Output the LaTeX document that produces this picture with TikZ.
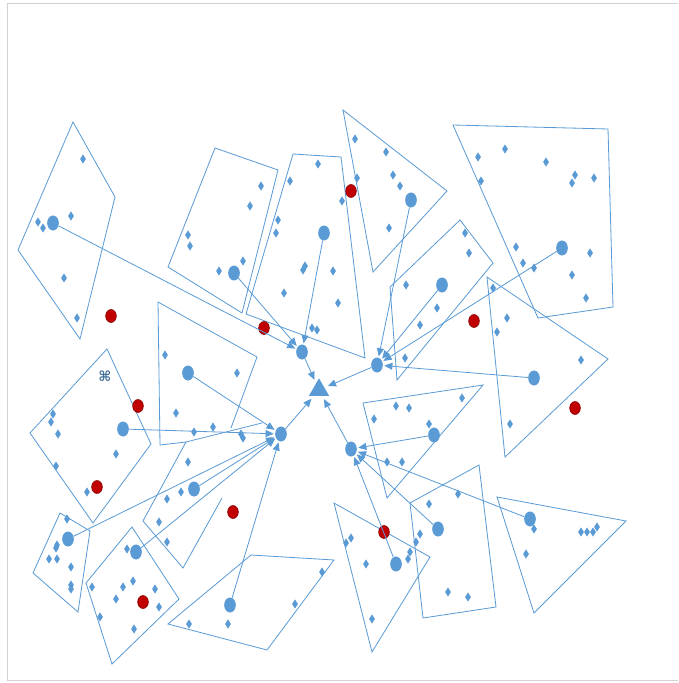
\documentclass[tikz,border=0pt]{standalone}
\usepackage{fontspec}
\newfontfamily\symfont{DejaVu Sans}
\usepackage{xcolor}
\usetikzlibrary{shapes,arrows.meta}
\definecolor{dotblue}{RGB}{91,155,213}
\definecolor{dotred}{RGB}{192,0,0}
\tikzset{
  zone/.style={draw=dotblue, line width=0.7pt},
  bigdot/.style={ellipse, fill=dotblue, inner sep=0pt, minimum width=0.35cm, minimum height=0.45cm},
  gem/.style={diamond, fill=dotblue, inner sep=0pt, minimum width=0.18cm, minimum height=0.28cm},
  reddot/.style={ellipse, fill=dotred, draw=dotred!70!black, line width=0.5pt, inner sep=0pt, minimum width=0.32cm, minimum height=0.39cm},
  feed/.style={draw=dotblue, line width=0.7pt, -{Triangle[length=7pt,width=6pt]}, shorten >=1pt}
}
\begin{document}
\begin{tikzpicture}[x=0.03cm,y=-0.03cm]
\useasboundingbox (0,0) rectangle (678,683);
% frame
\draw[gray!35, line width=0.6pt] (678,3) -- (7,3) -- (7,680) -- (678,680);

% cluster outlines
\draw[zone] (73,122) -- (115,197) -- (80,339) -- (18,250) -- cycle;
\draw[zone] (215,148) -- (278,170) -- (242,313) -- (168,267) -- cycle;
\draw[zone] (293,154) -- (341,157) -- (365,358) -- (246,314) -- cycle;
\draw[zone] (343,110) -- (447,191) -- (373,272) -- cycle;
\draw[zone] (460,220) -- (493,263) -- (397,380) -- (390,287) -- cycle;
\draw[zone] (453,125) -- (608,129) -- (613,307) -- (538,318) -- cycle;
\draw[zone] (487,277) -- (608,359) -- (505,457) -- cycle;
\draw[zone] (363,403) -- (483,385) -- (387,498) -- cycle;
\draw[zone] (479,465) -- (496,607) -- (423,618) -- (410,503) -- cycle;
\draw[zone] (497,497) -- (626,521) -- (534,613) -- cycle;
\draw[zone] (334,503) -- (430,557) -- (372,652) -- cycle;
\draw[zone] (107,349) -- (151,444) -- (93,523) -- (30,433) -- cycle;
\draw[zone] (231,428) -- (257,357) -- (158,302) -- (160,445) -- (186,442);
\draw[zone] (262,423) -- (186,442) -- (143,521) -- (183,568) -- (222,498);
\draw[zone] (60,513) -- (90,531) -- (78,612) -- (33,573) -- cycle;
\draw[zone] (132,527) -- (179,599) -- (112,664) -- (86,583) -- cycle;
\draw[zone] (251,555) -- (334,560) -- (267,650) -- (168,624) -- cycle;

% small members
\foreach \p [count=\i] in {(83,159),(71,216),(38,222),(43,228),(64,278),(77,318)}
  \node[gem] (ga\i) at \p {};
\foreach \p [count=\i] in {(261,186),(250,206),(188,235),(190,246),(243,261),(219,271)}
  \node[gem] (gb\i) at \p {};
\foreach \p [count=\i] in {(318,164),(290,181),(278,220),(276,233),(305,266),(303,270),(333,271),(284,293),(338,303),(312,328),(317,330),(342,201)}
  \node[gem] (gc\i) at \p {};
\foreach \p [count=\i] in {(355,139),(386,152),(357,178),(393,175),(400,186),(389,228)}
  \node[gem] (gd\i) at \p {};
\foreach \p [count=\i] in {(465,233),(469,253),(406,285),(437,308),(420,325),(405,358)}
  \node[gem] (ge\i) at \p {};
\foreach \p [count=\i] in {(478,157),(505,149),(546,162),(575,175),(572,183),(594,178),(481,181),(516,247),(523,263),(534,268),(590,253),(572,275),(586,298)}
  \node[gem] (gf\i) at \p {};
\foreach \p [count=\i] in {(581,360),(510,424),(493,288),(507,318),(497,332)}
  \node[gem] (gg\i) at \p {};
\foreach \p [count=\i] in {(396,406),(409,408),(462,398),(374,419),(429,424),(387,462),(402,462)}
  \node[gem] (gh\i) at \p {};
\foreach \p [count=\i] in {(429,504),(420,534),(416,542),(410,552),(408,559),(448,592),(468,597),(458,494)}
  \node[gem] (gi\i) at \p {};
\foreach \p [count=\i] in {(534,529),(526,554),(581,532),(587,532),(593,532),(597,527)}
  \node[gem] (gj\i) at \p {};
\foreach \p [count=\i] in {(351,538),(346,543),(366,564),(372,619)}
  \node[gem] (gk\i) at \p {};
\foreach \p [count=\i] in {(53,414),(51,422),(58,434),(116,454),(56,466),(87,492)}
  \node[gem] (gl\i) at \p {};
\foreach \p [count=\i] in {(165,355),(237,373),(176,413),(194,432),(213,427),(241,434),(243,438)}
  \node[gem] (gm\i) at \p {};
\foreach \p [count=\i] in {(188,462),(181,492),(167,499),(159,522),(167,542)}
  \node[gem] (gn\i) at \p {};
\foreach \p [count=\i] in {(67,519),(57,545),(56,548),(49,559),(57,559),(71,567),(71,585),(71,589)}
  \node[gem] (go\i) at \p {};
\foreach \p [count=\i] in {(127,549),(92,587),(133,581),(123,587),(155,589),(116,599),(159,607),(100,617),(134,629)}
  \node[gem] (gp\i) at \p {};
\foreach \p [count=\i] in {(322,572),(295,604),(189,624),(228,624)}
  \node[gem] (gq\i) at \p {};

% outliers
\foreach \p [count=\i] in {(111,316),(264,328),(351,191),(474,321),(575,408),(384,532),(138,406),(97,487),(233,512),(143,602)}
  \node[reddot] (r\i) at \p {};
\node[text=dotblue!70!black, font=\symfont\bfseries\large, inner sep=0pt] (mark) at (105,376) {⌘};

% cluster centres
\node[bigdot] (ca) at (53,223) {};
\node[bigdot] (cb) at (234,273) {};
\node[bigdot] (cc) at (324,233) {};
\node[bigdot] (cd) at (411,200) {};
\node[bigdot] (ce) at (442,285) {};
\node[bigdot] (cf) at (562,248) {};
\node[bigdot] (cg) at (534,378) {};
\node[bigdot] (ch) at (434,435) {};
\node[bigdot] (ci) at (438,529) {};
\node[bigdot] (cj) at (530,519) {};
\node[bigdot] (ck) at (396,564) {};
\node[bigdot] (cl) at (123,429) {};
\node[bigdot] (cm) at (188,373) {};
\node[bigdot] (cn) at (194,489) {};
\node[bigdot] (co) at (68,539) {};
\node[bigdot] (cp) at (136,552) {};
\node[bigdot] (cq) at (230,605) {};

% hubs and goal
\node[bigdot] (h1) at (302,352) {};
\node[bigdot] (h2) at (377,365) {};
\node[bigdot] (h3) at (281,434) {};
\node[bigdot] (h4) at (351,449) {};
\node[regular polygon, regular polygon sides=3, fill=dotblue, inner sep=0pt, minimum size=0.7cm] (goal) at (319,390) {};

% links
\foreach \c in {ca,cb,cc} \draw[feed] (\c) -- (h1);
\foreach \c in {cd,ce,cf,cg} \draw[feed] (\c) -- (h2);
\foreach \c in {cl,cm,cn,co,cp,cq} \draw[feed] (\c) -- (h3);
\foreach \c in {ch,ci,cj,ck} \draw[feed] (\c) -- (h4);
\foreach \h in {h1,h2,h3,h4} \draw[feed, shorten >=3pt] (\h) -- (goal);
\end{tikzpicture}
\end{document}
